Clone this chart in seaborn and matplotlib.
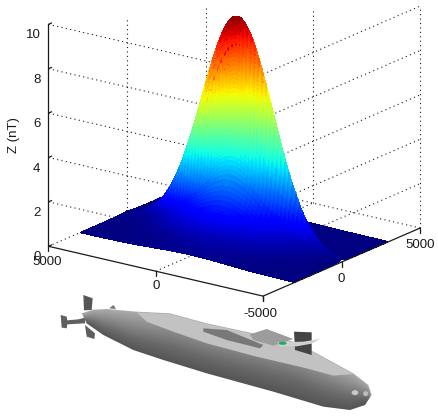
import numpy as np
import matplotlib
matplotlib.use("Agg")
import matplotlib.pyplot as plt
import seaborn as sns
from matplotlib.patches import Polygon, Ellipse
from mpl_toolkits.mplot3d import proj3d

sns.set_theme(style="white")
plt.rcParams['font.family'] = ['Liberation Sans', 'DejaVu Sans']

# ---- data ----
x_ticks = [-5000, 0, 5000]
y_ticks = [-5000, 0, 5000]
z_ticks = [0, 2, 4, 6, 8, 10]
z_label = "Z (nT)"
peak_nT = 10.0
# relative field strength across the ridge (x stations and values)
x_stations = [-3000,-2800,-2500,-2300,-2150,-2000,-1900,-1800,-1700,-1600,-1540,-1480,-1420,-1360,-1300,-1240,-1180,-1060,-1000,
              -920,-840,-760,-680,-600,-500,-400,-360,-320,-290,-275,-263,-250,-237,-225,-212,-200,-192,-183,-175,-167,-159,-152,
              -144,-136,-128,-119,-110,-103,-95,-88,-80,-73,-66,-58,-51,-44,-37,-30,-20,-10,0,
              10,30,55,80,110,140,170,200,250,300,350,400,500,650,800,1000,1300,1700,2200,3000]
profile_x = [.015,.018,.022,.026,.030,.035,.040,.045,.050,.055,.060,.070,.080,.090,.10,.11,.12,.14,.15,
             .17,.19,.21,.23,.25,.275,.30,.32,.34,.36,.38,.40,.42,.44,.46,.48,.50,.52,.54,.56,.58,.60,.62,
             .64,.66,.68,.70,.72,.74,.76,.78,.80,.82,.84,.86,.88,.90,.92,.94,.96,.98,1.0,
             .98,.94,.87,.80,.72,.65,.57,.50,.42,.35,.28,.22,.15,.10,.06,.035,.02,.012,.008,.005]
# relative field strength along the ridge, from y = -5000 to y = 5000
profile_y = [.0133,.0178,.0236,.0310,.0402,.0517,.0657,.0828,.1031,.1273,.1555,.1879,.2250,.2666,.3125,.3627,.4168,.4738,.5334,.5942,
             .6553,.7155,.7734,.8270,.8757,.9179,.9521,.9777,.9938,1.0,.9959,.9817,.9581,.9253,.8846,.8374,.7843,.7272,.6676,.6065,
             .5455,.4857,.4278,.3731,.3223,.2753,.2329,.1951,.1617,.1326,.1078,.0866,.0688,.0543,.0423,.0326,.0249,.0189,.0141,.0105,.0077]
y_extent = (-5000, 5000)
# heights where the dotted verticals stop: (x, y, top z)
verticals = [(0, 5000, 8.7), (5000, 5000, 7.7), (5000, 0, 8.8), (5000, -5000, 10)]

# ---- submarine outline, in its own picture units ----
hull_top = [(125,85),(160,74),(200,72),(290,80),(390,85),(500,115),(640,145),(760,170),(830,205),(940,265),(985,300),(995,330)]
hull_bot = [(975,360),(930,375),(850,365),(700,320),(500,265),(370,225),(280,195),(190,150),(140,115)]
deck = [(290,82),(390,87),(500,117),(640,147),(760,172),(830,207),(940,267),(880,272),(800,250),(650,215),(500,175),(400,140),(320,110)]
fin_top = [(130,30),(158,40),(155,75),(132,76)]
fin_low = [(135,120),(165,145),(163,162),(140,155)]
plane = [(62,90),(80,95),(82,106),(115,103),(135,98),(135,115),(82,118),(80,130),(65,128)]
bump = [(208,70),(220,60),(228,72)]
sail = [(762,140),(815,142),(815,210),(765,195)]
sail_plane = [(712,172),(790,170),(840,162),(815,176),(770,184),(720,184)]
hatches = [(490,130),(560,135),(670,180),(660,190),(560,165),(490,140)]
raised = [(630,148),(680,132),(760,162),(700,182),(640,165)]

fig = plt.figure(figsize=(4.38, 4.19), dpi=100, facecolor="white")
ax = fig.add_axes([(228.5-215)/438, (287-215)/419, 430/438, 430/419], projection="3d")
ax.set_proj_type("ortho")
ax.view_init(elev=18.5, azim=216.2)
ax.set_box_aspect((1, 1, 0.88), zoom=1.0)
ax.set_xlim(-5000, 5000, view_margin=0)
ax.set_ylim(-5000, 5000, view_margin=0)
ax.set_zlim(0, 10, view_margin=0)
ax.set_axis_off()
ax.computed_zorder = False

X, Y = np.meshgrid(x_stations, np.linspace(*y_extent, len(profile_y)))
Z = peak_nT * np.outer(profile_y, profile_x)
cmap = matplotlib.colormaps["jet"]
ax.plot_surface(X, Y, Z, facecolors=cmap(Z / peak_nT), rstride=1, cstride=1, shade=False,
                linewidth=0, antialiased=False, zorder=5)

xmin, xmax = x_ticks[0], x_ticks[-1]
ymin, ymax = y_ticks[0], y_ticks[-1]
dot = dict(color="k", lw=0.8, ls=(0, (1, 3)), zorder=1)
solid = dict(color="k", lw=0.9, zorder=6)

for z in z_ticks[1:]:
    ax.plot([xmin, xmin], [ymax, ymin], [z, z], **dot)
    ax.plot([xmin, xmax], [ymin, ymin], [z, z], **dot)
for xv in x_ticks[1:]:
    ax.plot([xv, xv], [ymin, ymax], [0, 0], **dot)
for yv in y_ticks[1:]:
    ax.plot([xmin, xmax], [yv, yv], [0, 0], **dot)
for xv, yv, top in verticals:
    ax.plot([xv, xv], [yv, yv], [0, top], **dot)

ax.plot([xmin, xmin], [ymax, ymin], [0, 0], **solid)
ax.plot([xmin, xmax], [ymin, ymin], [0, 0], **solid)
ax.plot([xmin, xmin], [ymax, ymax], [0, z_ticks[-1]], **solid)

tick_len = 0.22
for xv in x_ticks:
    ax.plot([xv, xv], [ymin, ymin], [0, -tick_len], **solid)
for yv in y_ticks:
    ax.plot([xmin, xmin], [yv, yv], [0, -tick_len], **solid)
for z in z_ticks:
    ax.plot([xmin, xmin + 200], [ymax, ymax], [z, z], **solid)

M = ax.get_proj()
def put(xv, yv, zv, text, dx, dy, ha="center", **kw):
    px, py, _ = proj3d.proj_transform(xv, yv, zv, M)
    ax.annotate(text, (px, py), xytext=(dx, dy), textcoords="offset pixels", ha=ha, va="center",
                fontsize=9.5, color="k", zorder=7, **kw)

for z in z_ticks:
    put(xmin, ymax, z, str(z), -8, -11, ha="right")
for yv, dx, dy in zip(y_ticks, (-3, 0, -1), (-18, -15, -16)):
    put(xmin, yv, 0, str(yv), dx, dy)
for xv, dx, dy in zip(x_ticks[1:], (0, 0), (-17, -17)):
    put(xv, ymin, 0, str(xv), dx, dy)
put(xmin, ymax, 5, z_label, -34, 0, rotation=90)

# ---- submarine drawn in a 2D overlay ----
sub = fig.add_axes([40/438, (419-415)/419, 360/438, 130/419], zorder=3)
sub.axis("off")
sub.patch.set_alpha(0)

gx, gy = np.meshgrid(np.linspace(0, 1080, 360), np.linspace(0, 390, 130))
top_xy = np.array(hull_top)
bot_xy = np.array(hull_bot[::-1])
edge_top = np.interp(gx, top_xy[:, 0], top_xy[:, 1])
edge_bot = np.interp(gx, bot_xy[:, 0], bot_xy[:, 1])
v = (gy - edge_top) / np.maximum(edge_bot - edge_top, 1)
grey = np.interp(v, [0, 0.35, 0.7, 1.0], [170, 138, 104, 84])
img = sub.imshow(grey, cmap="gray", vmin=0, vmax=255, extent=(0, 1080, 390, 0), aspect="auto", zorder=2)
hull_patch = Polygon(hull_top + hull_bot, closed=True, transform=sub.transData, fc="none", ec="none")
sub.add_patch(hull_patch)
img.set_clip_path(hull_patch)
sub.set_xlim(0, 1080)
sub.set_ylim(390, 0)

def poly(pts, shade, z=3):
    sub.add_patch(Polygon(pts, closed=True, fc=shade, ec="none", zorder=z))

poly(fin_top, "#565656", 1)
poly(fin_low, "#5e5e5e", 1)
poly(plane, "#606060", 1)
poly(bump, "#707070", 1)
poly(deck, "#c2c2c2")
poly(hatches, "#787878", 4)
poly(raised, "#9c9c9c", 4)
poly(sail, "#444444", 5)
poly(sail_plane, "#d0d0d0", 6)
sub.add_patch(Ellipse((728, 175), 24, 9, fc="#18b060", ec="none", zorder=7))
sub.add_patch(Ellipse((945, 323), 20, 15, fc="#c8c8c8", ec="none", zorder=4))
sub.add_patch(Ellipse((977, 326), 15, 15, fc="#bcbcbc", ec="none", zorder=4))

fig.savefig("out.png", dpi=100, facecolor="white")
